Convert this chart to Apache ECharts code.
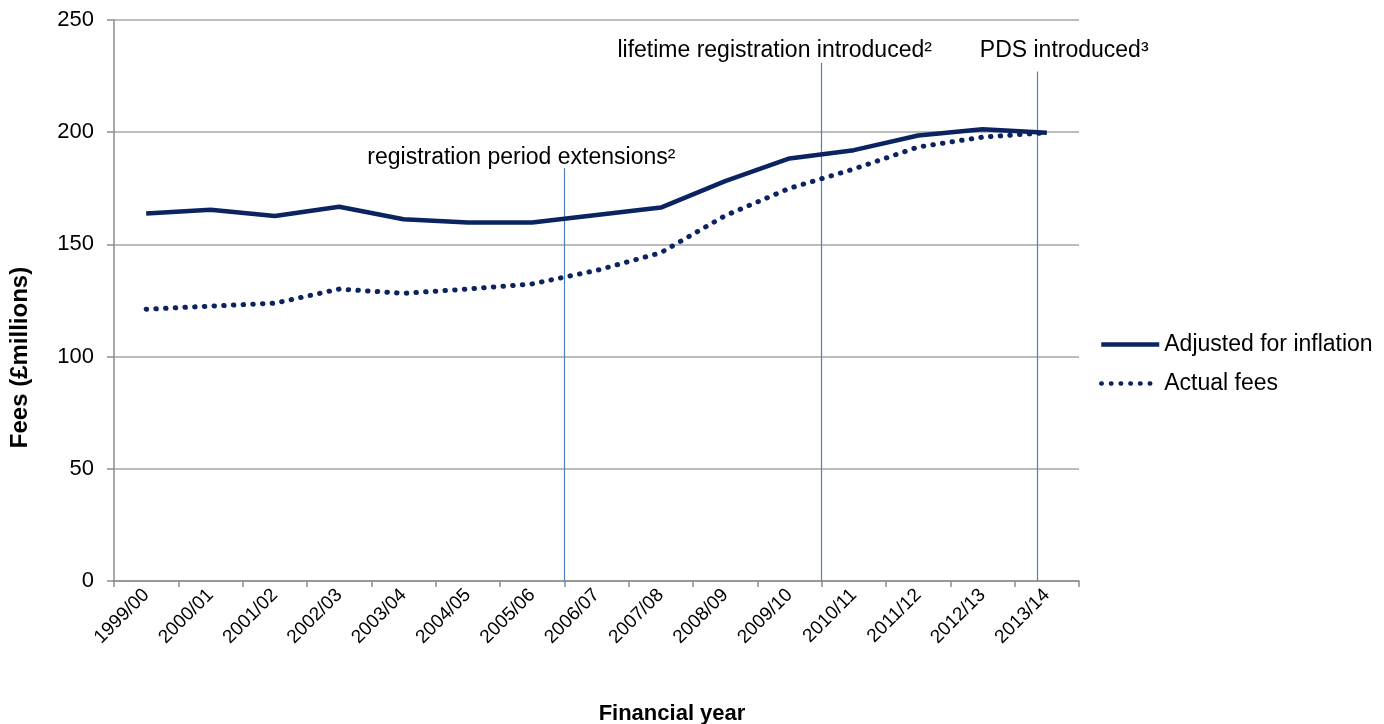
<!DOCTYPE html>
<html lang="en" style="height: 100%">
<head>
  <meta charset="utf-8">
  <title>Fees</title>
</head>
<body style="height: 100%; margin: 0; background: #ffffff;">
  <div id="container" style="width: 1384px; height: 724px;"></div>

  <script src="https://cdn.jsdelivr.net/npm/echarts@6/dist/echarts.min.js"></script>

  <script type="text/javascript">
    const years = ['1999/00', '2000/01', '2001/02', '2002/03', '2003/04', '2004/05', '2005/06', '2006/07',
      '2007/08', '2008/09', '2009/10', '2010/11', '2011/12', '2012/13', '2013/14'];
    const adjusted = [163.8, 165.4, 162.7, 166.8, 161.2, 159.8, 159.8, 163.1, 166.4, 178.2, 188.3, 192, 198.5, 201.3, 199.8];
    const actual = [121.1, 122.5, 123.8, 130.1, 128.2, 130.1, 132.4, 138.4, 146.3, 162.8, 175, 183.6, 193.4, 197.8, 199.8];

    // event markers: position on a 0..15 category-width scale, top of the line (fees), label
    const eventPos = [7, 11, 14.35];
    const eventTop = [184, 231, 227];
    const eventText = ['registration period extensions²', 'lifetime registration introduced²', 'PDS introduced³'];
    const eventOffset = [[-43, 3], [-47, 2], [27, -7]];

    const navy = '#0b2361';
    const font = 'Liberation Sans, Arial, sans-serif';

    const myChart = echarts.init(document.getElementById('container'));

    const markData = eventPos.map((p, i) => [
      { coord: [p, 0] },
      {
        coord: [p, eventTop[i]],
        label: { formatter: eventText[i], offset: eventOffset[i] }
      }
    ]);

    const option = {
      animation: false,
      textStyle: { fontFamily: font },
      title: {
        text: 'Financial year',
        left: 667,
        top: 698,
        textAlign: 'center',
        textStyle: { fontFamily: font, fontSize: 22, fontWeight: 'bold', color: '#000' }
      },
      legend: {
        orient: 'vertical',
        left: 1094,
        top: 328,
        itemWidth: 58,
        itemHeight: 14,
        itemGap: 16,
        data: ['Adjusted for inflation', 'Actual fees'],
        itemStyle: { opacity: 0 },
        lineStyle: { width: 4.5 },
        textStyle: { fontFamily: font, fontSize: 23, color: '#000' }
      },
      grid: { left: 114, right: 305, top: 20, bottom: 143 },
      xAxis: [
        {
          type: 'category',
          data: years,
          boundaryGap: true,
          axisLine: { lineStyle: { color: '#8c8c8c', width: 1.5 } },
          axisTick: { show: true, length: 6, lineStyle: { color: '#8c8c8c', width: 1.5 } },
          axisLabel: {
            interval: 0,
            rotate: 45,
            margin: 11,
            fontFamily: font,
            fontSize: 19,
            color: '#000'
          }
        },
        { type: 'value', min: 0, max: 15, show: false }
      ],
      yAxis: {
        type: 'value',
        min: 0,
        max: 250,
        interval: 50,
        name: 'Fees (£millions)',
        nameLocation: 'middle',
        nameGap: 82,
        nameTextStyle: {
          fontFamily: font, fontSize: 24, fontWeight: 'bold', color: '#000',
          padding: [0, 114, 0, 0]
        },
        axisLine: { show: true, lineStyle: { color: '#8c8c8c', width: 1.5 } },
        axisTick: { show: true, length: 7, lineStyle: { color: '#8c8c8c', width: 1.5 } },
        axisLabel: { margin: 20, fontFamily: font, fontSize: 22, color: '#000' },
        splitLine: { lineStyle: { color: '#a6a6a6', width: 1.5 } }
      },
      series: [
        {
          name: 'Adjusted for inflation',
          type: 'line',
          data: adjusted,
          symbol: 'none',
          lineStyle: { color: navy, width: 4.5 },
          itemStyle: { color: navy },
          z: 5
        },
        {
          name: 'Actual fees',
          type: 'line',
          data: actual,
          symbol: 'none',
          lineStyle: { color: navy, width: 5, type: [0.5, 9.2], cap: 'round' },
          itemStyle: { color: navy },
          z: 5
        },
        {
          name: 'events',
          type: 'line',
          xAxisIndex: 1,
          data: [],
          markLine: {
            silent: true,
            symbol: 'none',
            lineStyle: { color: '#4f81bd', width: 1.2, type: 'solid' },
            label: {
              position: 'end',
              distance: 2,
              fontFamily: font,
              fontSize: 23,
              color: '#000'
            },
            data: markData
          }
        }
      ]
    };

    myChart.setOption(option);
    window.addEventListener('resize', myChart.resize);
  </script>
</body>
</html>
